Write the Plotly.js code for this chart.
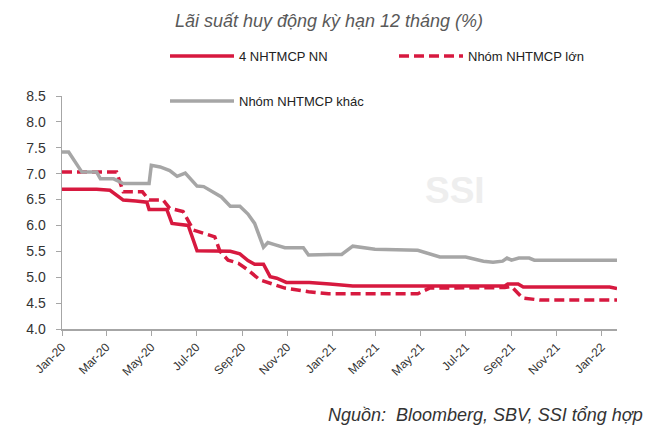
<!DOCTYPE html>
<html>
<head>
<meta charset="utf-8">
<script src="https://cdn.plot.ly/plotly-3.0.1.min.js"></script>
<style>html,body{margin:0;padding:0;background:#fff;}#chart{width:652px;height:438px;}</style>
</head>
<body>
<div id="chart"></div>
<script>
// ---- Data ----
const seriesNames = ["4 NHTMCP NN", "Nhóm NHTMCP lớn", "Nhóm NHTMCP khác"];

const nnDates = ["2020-01-01","2020-02-17","2020-03-06","2020-03-24","2020-04-10","2020-04-25","2020-04-28","2020-05-22","2020-05-29","2020-06-20","2020-07-02","2020-08-02","2020-08-16","2020-08-29","2020-09-09","2020-09-18","2020-09-30","2020-10-09","2020-10-18","2020-10-31","2020-12-01","2020-12-29","2021-01-11","2021-01-29","2021-08-23","2021-08-27","2021-09-10","2021-09-17","2022-01-12","2022-01-22"];
const nnValues = [6.70,6.70,6.68,6.49,6.47,6.45,6.31,6.31,6.04,6.00,5.51,5.51,5.50,5.45,5.32,5.25,5.25,5.01,4.98,4.90,4.90,4.87,4.86,4.83,4.83,4.87,4.87,4.81,4.81,4.78];

const lonDates = ["2020-01-01","2020-03-15","2020-03-24","2020-04-19","2020-04-28","2020-05-17","2020-05-26","2020-06-13","2020-06-27","2020-07-20","2020-07-26","2020-08-02","2020-08-13","2020-08-27","2020-09-09","2020-09-25","2020-10-11","2020-10-29","2020-11-30","2020-12-27","2021-04-27","2021-05-13","2021-08-23","2021-09-01","2021-09-16","2021-10-09","2022-01-22"];
const lonValues = [7.03,7.03,6.65,6.65,6.49,6.49,6.33,6.27,5.91,5.80,5.78,5.50,5.33,5.27,5.14,4.95,4.88,4.79,4.72,4.68,4.68,4.79,4.80,4.82,4.60,4.56,4.56];

const khacDates = ["2020-01-01","2020-01-10","2020-01-28","2020-02-17","2020-02-22","2020-03-11","2020-03-24","2020-04-28","2020-05-01","2020-05-13","2020-05-26","2020-06-05","2020-06-16","2020-07-02","2020-07-11","2020-07-24","2020-08-04","2020-08-16","2020-08-29","2020-09-09","2020-09-18","2020-09-30","2020-10-06","2020-10-15","2020-10-29","2020-11-23","2020-11-30","2020-12-29","2021-01-14","2021-01-29","2021-02-28","2021-04-27","2021-05-27","2021-07-01","2021-07-25","2021-08-07","2021-08-20","2021-08-26","2021-09-01","2021-09-11","2021-09-25","2021-10-02","2022-01-22"];
const khacValues = [7.42,7.42,7.03,7.03,6.90,6.90,6.81,6.81,7.16,7.13,7.06,6.95,7.01,6.76,6.75,6.65,6.55,6.37,6.37,6.22,6.04,5.58,5.67,5.63,5.57,5.57,5.43,5.44,5.44,5.60,5.54,5.52,5.39,5.39,5.31,5.29,5.31,5.37,5.33,5.37,5.37,5.33,5.33];

const yTicks = [4.0,4.5,5.0,5.5,6.0,6.5,7.0,7.5,8.0,8.5];
const yTickText = ["4.0","4.5","5.0","5.5","6.0","6.5","7.0","7.5","8.0","8.5"];

const RED = "#d7193f";
const GREY = "#a6a6a6";
const FONT = "Liberation Sans, Arial, sans-serif";

const traces = [
  {x: nnDates, y: nnValues, name: seriesNames[0], type: "scatter", mode: "lines",
   line: {color: RED, width: 3.5}, legend: "legend"},
  {x: lonDates, y: lonValues, name: seriesNames[1], type: "scatter", mode: "lines",
   line: {color: RED, width: 3.5, dash: "10px,5px"}, legend: "legend"},
  {x: khacDates, y: khacValues, name: seriesNames[2], type: "scatter", mode: "lines",
   line: {color: GREY, width: 3.5}, legend: "legend2"}
];

const PL = 62, PR = 617, PT = 96, PB = 329;
const px = v => (v - PL) / (PR - PL);
const py = v => (PB - v) / (PB - PT);

const layout = {
  width: 652, height: 438,
  margin: {l: PL, r: 652 - PR, t: PT, b: 438 - PB},
  paper_bgcolor: "#fff", plot_bgcolor: "#fff",
  font: {family: FONT, color: "#333", size: 13},
  title: {text: "Lãi suất huy động kỳ hạn 12 tháng (%)", x: 329/652, xanchor: "center",
          y: 1 - 21/438, yanchor: "middle", xref: "container", yref: "container",
          font: {family: FONT, size: 18, color: "#595959", style: "italic"}},
  xaxis: {type: "date", range: ["2020-01-01", "2022-01-22"], dtick: "M2", tick0: "2020-01-01",
          tickformat: "%b-%y", tickangle: -45, ticks: "outside", ticklen: 5, tickcolor: GREY,
          showline: true, linecolor: GREY, linewidth: 1.5, showgrid: false, zeroline: false,
          tickfont: {family: FONT, size: 12, color: "#333"}},
  yaxis: {range: [4, 8.5], tickvals: yTicks, ticktext: yTickText, ticks: "outside", ticklen: 5,
          tickcolor: GREY, showline: true, linecolor: GREY, linewidth: 1.5, showgrid: false,
          zeroline: false, ticklabelstandoff: 7, tickfont: {family: FONT, size: 14, color: "#333"}},
  showlegend: true,
  legend: {orientation: "h", xref: "paper", yref: "paper", x: px(165), xanchor: "left",
           y: py(56), yanchor: "middle", entrywidth: 150, entrywidthmode: "pixels",
           itemwidth: 64, font: {family: FONT, size: 13, color: "#222"}, bgcolor: "rgba(0,0,0,0)"},
  legend2: {orientation: "h", xref: "paper", yref: "paper", x: px(165), xanchor: "left",
           y: py(101), yanchor: "middle", itemwidth: 64,
           font: {family: FONT, size: 13, color: "#222"}, bgcolor: "rgba(0,0,0,0)"},
  annotations: [
    {text: "SSI", xref: "paper", yref: "paper", x: px(487), y: py(168),
     showarrow: false, font: {family: FONT, size: 37, color: "#eeeeee", weight: "bold"}},
    {text: "Nguồn:  Bloomberg, SBV, SSI tổng hợp", xref: "paper", yref: "paper",
     x: px(645), xanchor: "right", y: py(415), yanchor: "middle", showarrow: false,
     font: {family: FONT, size: 18, color: "#333", style: "italic"}}
  ]
};

Plotly.newPlot("chart", traces, layout, {displayModeBar: false, staticPlot: true});
</script>
</body>
</html>
